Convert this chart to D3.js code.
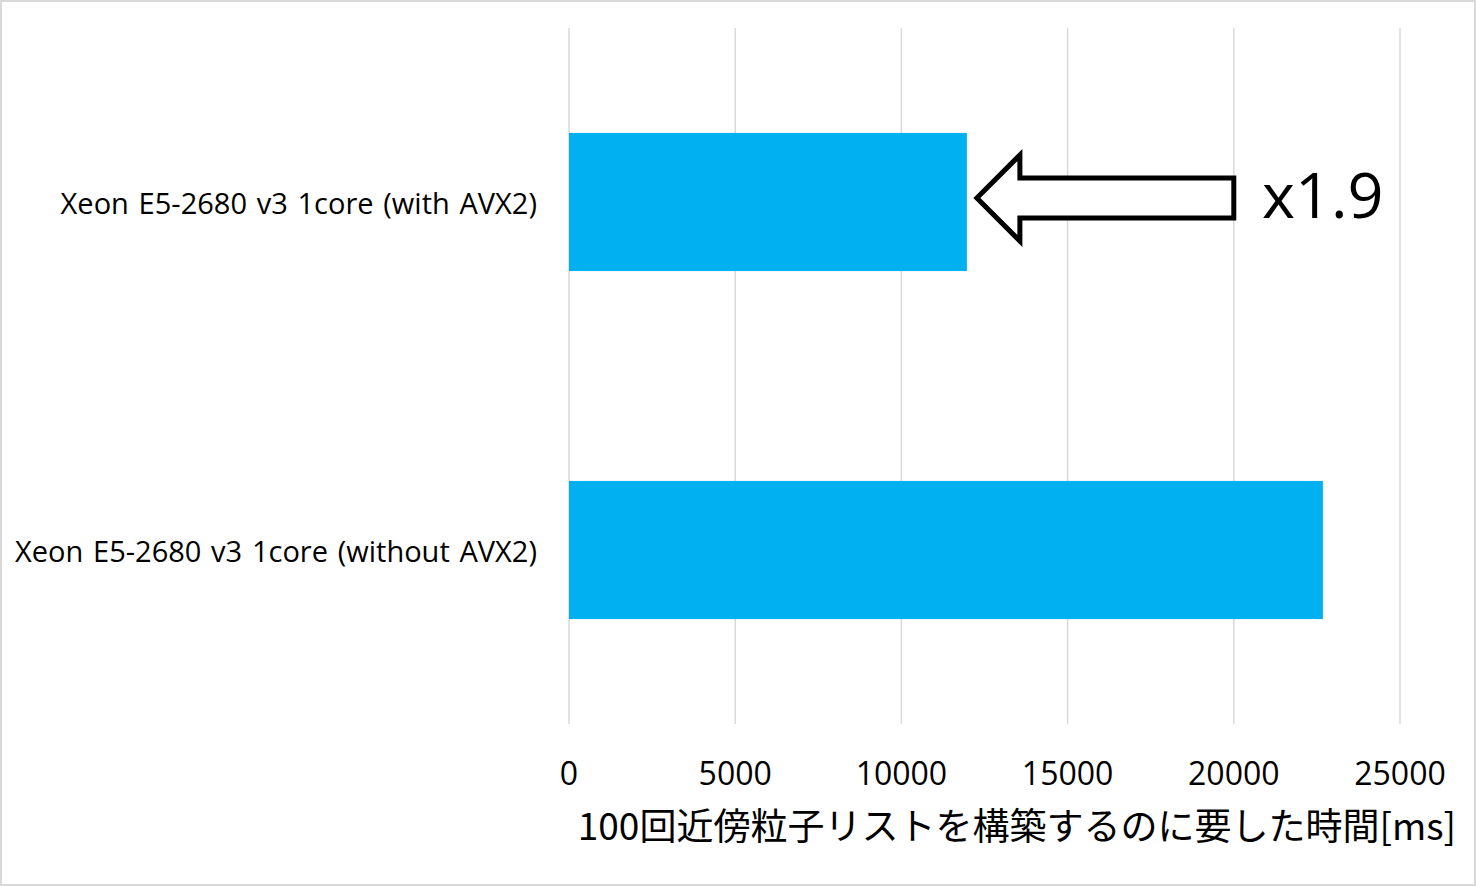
<!DOCTYPE html>
<html><head><meta charset="utf-8">
<script src="https://cdnjs.cloudflare.com/ajax/libs/d3/7.8.5/d3.min.js"></script>
<style>
html,body{margin:0;padding:0;background:#fff;}
svg{display:block;}
</style></head>
<body>
<script>
const categories = ["Xeon E5-2680 v3 1core (with AVX2)", "Xeon E5-2680 v3 1core (without AVX2)"];
const values = [11970, 22680];
const tickValues = [0, 5000, 10000, 15000, 20000, 25000];
const tickLabels = ["0", "5000", "10000", "15000", "20000", "25000"];
const axisTitle = "100回近傍粒子リストを構築するのに要した時間[ms]";
const speedupLabel = "x1.9";
const arrowFrom = 20000; // arrow tail (value units)

const W = 1476, H = 886;
const svg = d3.select("body").append("svg").attr("width", W).attr("height", H);

svg.append("rect").attr("x", 1).attr("y", 1).attr("width", W - 2).attr("height", H - 2)
  .attr("fill", "#fff").attr("stroke", "#d9d9d9").attr("stroke-width", 2);

const x = d3.scaleLinear().domain([0, 25000]).range([569, 1400]);
const y = d3.scaleBand().domain(categories).range([28, 724]).paddingInner(0.603).paddingOuter(0.3015);

// gridlines
svg.append("g").selectAll("line").data(tickValues).join("line")
  .attr("x1", d => x(d)).attr("x2", d => x(d))
  .attr("y1", 28).attr("y2", 724)
  .attr("stroke", "#d9d9d9").attr("stroke-width", 1.5);

// bars
svg.append("g").selectAll("rect").data(categories).join("rect")
  .attr("x", x(0)).attr("y", d => y(d))
  .attr("width", (d, i) => x(values[i]) - x(0))
  .attr("height", y.bandwidth())
  .attr("fill", "#00B0F0");

// category labels
svg.append("g").selectAll("text").data(categories).join("text")
  .attr("x", 537).attr("y", d => y(d) + y.bandwidth() / 2 + 12)
  .attr("text-anchor", "end")
  .attr("font-family", "'Open Sans', sans-serif").attr("font-size", 29)
  .attr("word-spacing", 2.2)
  .attr("fill", "#000").text(d => d);

// tick labels
svg.append("g").selectAll("text").data(tickValues).join("text")
  .attr("x", d => x(d)).attr("y", 785).attr("text-anchor", "middle")
  .attr("font-family", "'Open Sans', sans-serif").attr("font-size", 32)
  .attr("fill", "#000").text((d, i) => tickLabels[i]);

// axis title
svg.append("text").attr("x", 1456).attr("y", 840).attr("text-anchor", "end")
  .attr("font-family", "'Noto Sans CJK JP', sans-serif").attr("font-size", 37)
  .attr("fill", "#000").text(axisTitle);

// arrow annotation
const cy = y(categories[0]) + y.bandwidth() / 2 - 4;
const tipX = x(values[0]) + 10;
const headX = tipX + 43;
const tailX = x(arrowFrom);
const shaftH = 20, headH = 43;
const pts = [[tipX, cy], [headX, cy - headH], [headX, cy - shaftH], [tailX, cy - shaftH],
             [tailX, cy + shaftH], [headX, cy + shaftH], [headX, cy + headH]];
svg.append("path").attr("d", d3.line()(pts) + "Z")
  .attr("fill", "#fff").attr("stroke", "#000").attr("stroke-width", 5)
  .attr("stroke-linejoin", "miter");

svg.append("text").attr("x", 1262).attr("y", 218)
  .attr("font-family", "'Open Sans', sans-serif").attr("font-size", 63)
  .attr("fill", "#000").text(speedupLabel);
</script>
</body></html>
